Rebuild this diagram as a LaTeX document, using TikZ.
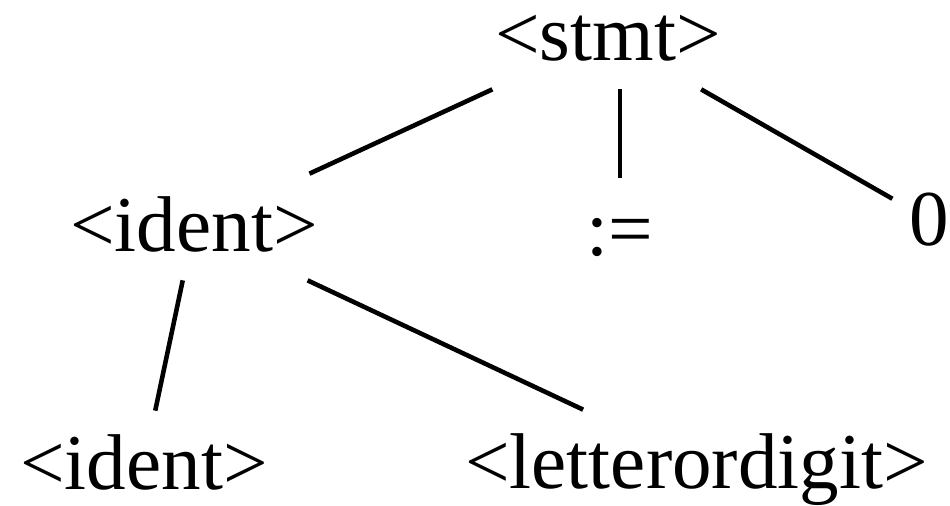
\documentclass[tikz,border=0pt]{standalone}
\usepackage{fontspec}
\setmainfont{Liberation Serif}

\begin{document}
\begin{tikzpicture}[
    sym/.style={anchor=base, font=\fontsize{45}{54}\selectfont,
      text height=1.46cm, text depth=0.46cm, inner sep=0.1cm},
    branch/.style={line width=2.6pt}
  ]
    \useasboundingbox (0,0) rectangle (19,10.1);

    % Symbols
    \node[sym] (stmt) at (12.16,8.88) {<stmt>};
    \node[sym] (ident) at (3.88,5.06) {<ident>};
    \node[sym] (assign) at (12.40,4.98) {:=};
    \node[sym, inner xsep=0.34cm] (zero) at (18.59,5.20) {0};
    \node[sym] (identl) at (2.88,0.32) {<ident>};
    \node[sym] (letdig) at (13.93,0.34) {<letterordigit>};

    % Branches
    \draw[branch] (stmt) -- (ident);
    \draw[branch] (assign |- stmt.south) -- (assign.north);
    \draw[branch] (stmt) -- (zero);
    \draw[branch] (ident) -- (identl);
    \draw[branch] (ident) -- (letdig);
\end{tikzpicture}
\end{document}
